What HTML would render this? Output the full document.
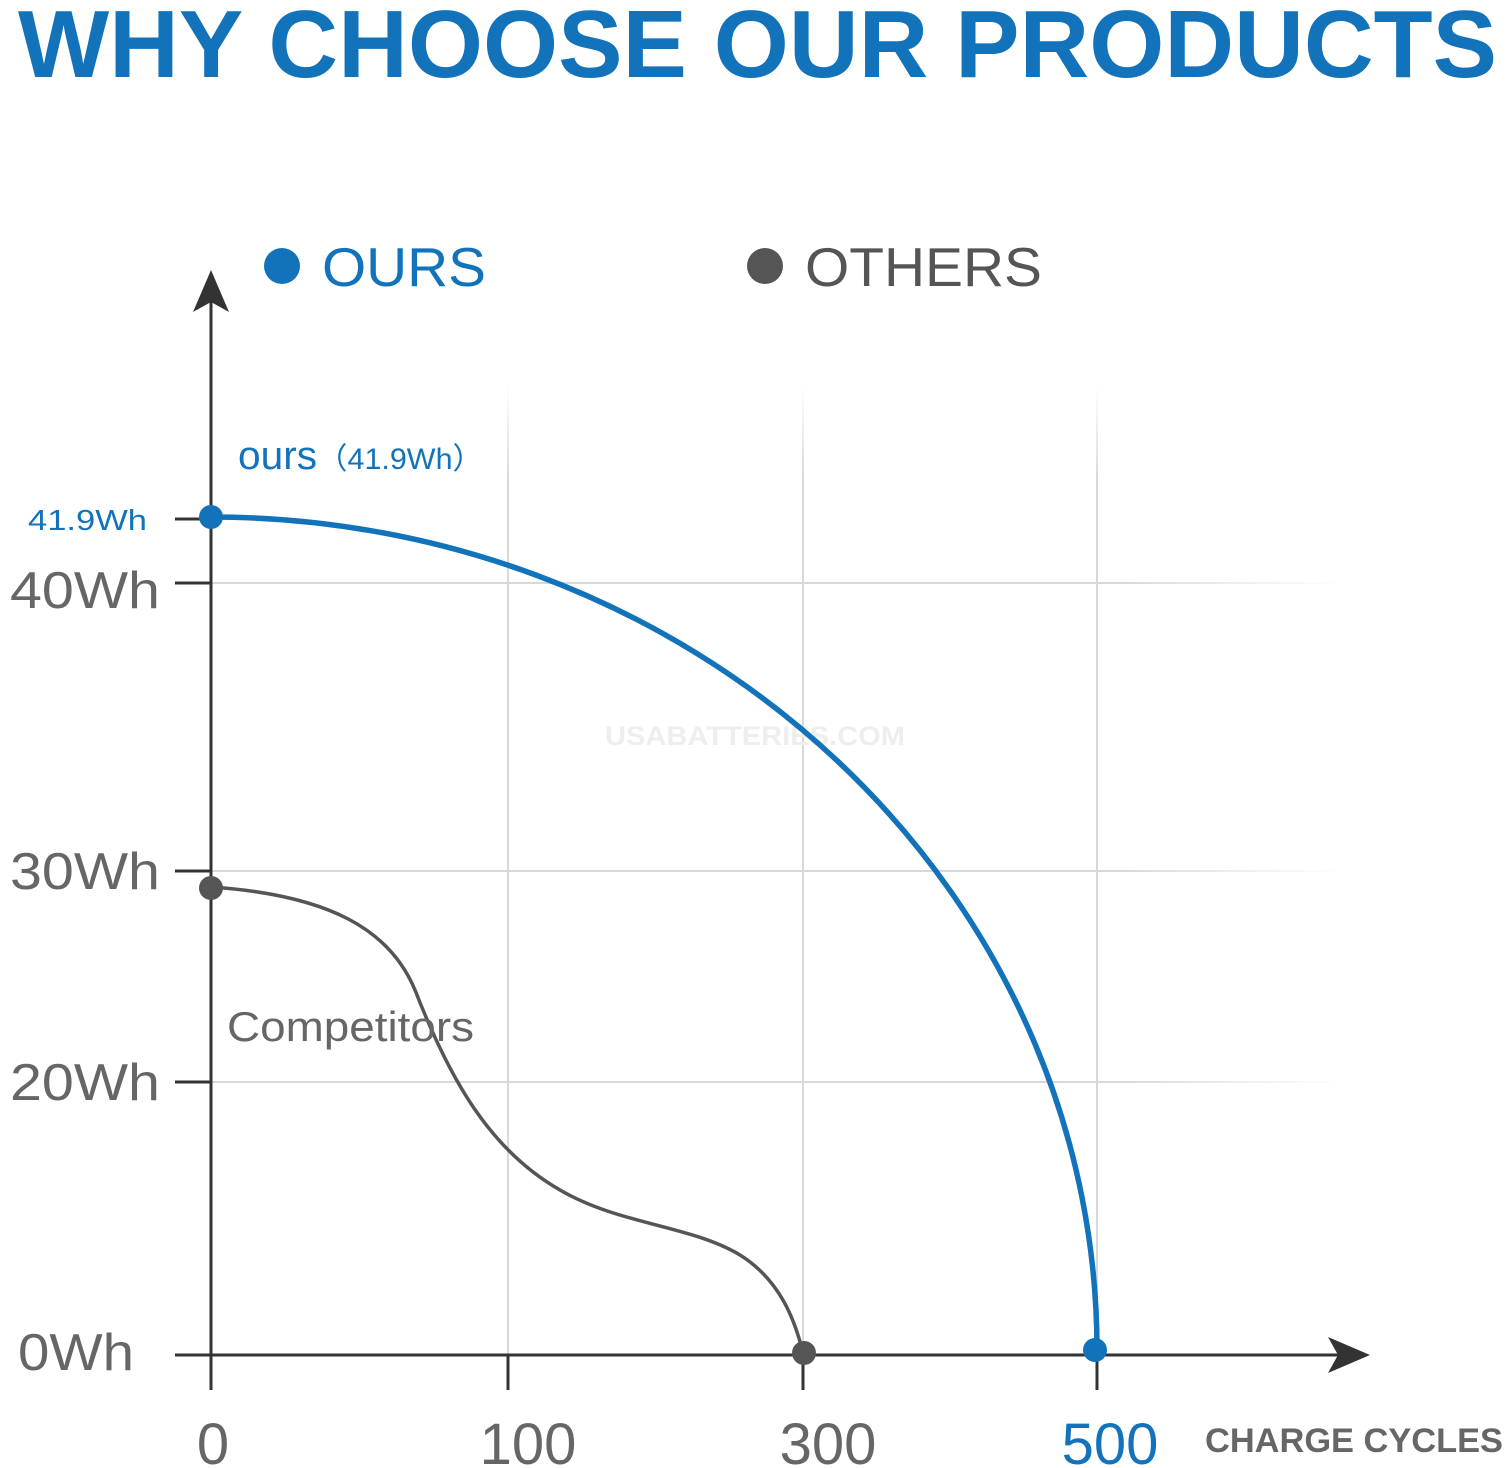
<!DOCTYPE html>
<html><head><meta charset="utf-8"><style>
html,body{margin:0;padding:0;background:#fff}
svg{display:block}
</style></head><body>
<svg width="1507" height="1468" viewBox="0 0 1507 1468" xmlns="http://www.w3.org/2000/svg" font-family="Liberation Sans, sans-serif">
<defs>
<linearGradient id="gh" x1="0" x2="1"><stop offset="0.8" stop-color="#d8d8d8"/><stop offset="1" stop-color="#d8d8d8" stop-opacity="0"/></linearGradient>
<linearGradient id="gv" x1="0" y1="0" x2="0" y2="1"><stop offset="0" stop-color="#d8d8d8" stop-opacity="0"/><stop offset="0.1" stop-color="#d8d8d8"/></linearGradient>
</defs>
<text x="18" y="77" font-size="96" font-weight="bold" fill="#1273bb" textLength="1479" lengthAdjust="spacingAndGlyphs">WHY CHOOSE OUR PRODUCTS</text>
<rect x="211" y="582" width="1130" height="2" fill="url(#gh)"/>
<rect x="211" y="870" width="1130" height="2" fill="url(#gh)"/>
<rect x="211" y="1081" width="1130" height="2" fill="url(#gh)"/>
<rect x="507" y="385" width="2" height="970" fill="url(#gv)"/>
<rect x="802" y="385" width="2" height="970" fill="url(#gv)"/>
<rect x="1096" y="385" width="2" height="970" fill="url(#gv)"/>
<g stroke="#333" stroke-width="3">
<line x1="211" y1="300" x2="211" y2="1390"/>
<line x1="175" y1="1355" x2="1345" y2="1355"/>
<line x1="175" y1="519" x2="211" y2="519"/>
<line x1="175" y1="583" x2="211" y2="583"/>
<line x1="175" y1="871" x2="211" y2="871"/>
<line x1="175" y1="1082" x2="211" y2="1082"/>
<line x1="508" y1="1355" x2="508" y2="1390"/>
<line x1="803" y1="1355" x2="803" y2="1390"/>
<line x1="1097" y1="1355" x2="1097" y2="1390"/>
</g>
<polygon points="211,270 193,312 211,302 229,312" fill="#333"/>
<polygon points="1370,1355 1328,1337 1338,1355 1328,1373" fill="#333"/>
<text x="605" y="745" font-size="27" font-weight="bold" fill="#eee" textLength="300" lengthAdjust="spacingAndGlyphs">USABATTERIES.COM</text>
<path d="M211,517 A886,833 0 0 1 1097,1350" fill="none" stroke="#1273bb" stroke-width="5.5"/>
<path d="M211,887 C330,895 390,930 415,990 C450,1080 490,1150 560,1190 C620,1225 690,1225 740,1255 C780,1280 795,1320 803,1353" fill="none" stroke="#555" stroke-width="3.5"/>
<circle cx="211" cy="517" r="12" fill="#1273bb"/>
<circle cx="1095" cy="1350" r="12" fill="#1273bb"/>
<circle cx="211" cy="888" r="12" fill="#555"/>
<circle cx="804" cy="1353" r="12" fill="#555"/>
<circle cx="282" cy="266" r="18" fill="#1273bb"/>
<text x="322" y="286" font-size="55" fill="#1273bb" textLength="164" lengthAdjust="spacingAndGlyphs">OURS</text>
<circle cx="765" cy="266" r="18" fill="#555"/>
<text x="805" y="286" font-size="55" fill="#555" textLength="237" lengthAdjust="spacingAndGlyphs">OTHERS</text>
<text x="238" y="469" font-size="40" fill="#1273bb" textLength="245" lengthAdjust="spacingAndGlyphs">ours<tspan font-size="30">（41.9Wh）</tspan></text>
<text x="227" y="1041" font-size="42" fill="#666" textLength="247" lengthAdjust="spacingAndGlyphs">Competitors</text>
<text x="28" y="530" font-size="29" fill="#1273bb" textLength="119" lengthAdjust="spacingAndGlyphs">41.9Wh</text>
<g font-size="52" fill="#666">
<text x="10" y="608" textLength="150" lengthAdjust="spacingAndGlyphs">40Wh</text>
<text x="10" y="889" textLength="150" lengthAdjust="spacingAndGlyphs">30Wh</text>
<text x="10" y="1100" textLength="150" lengthAdjust="spacingAndGlyphs">20Wh</text>
<text x="18" y="1370" textLength="116" lengthAdjust="spacingAndGlyphs">0Wh</text>
<text x="213" y="1464" text-anchor="middle" font-size="58">0</text>
<text x="528" y="1464" text-anchor="middle" font-size="58">100</text>
<text x="828" y="1464" text-anchor="middle" font-size="58">300</text>
</g>
<text x="1110" y="1464" text-anchor="middle" font-size="58" fill="#1273bb">500</text>
<text x="1205" y="1452" font-size="34" font-weight="bold" fill="#666" textLength="298" lengthAdjust="spacingAndGlyphs">CHARGE CYCLES</text>
</svg>
</body></html>
